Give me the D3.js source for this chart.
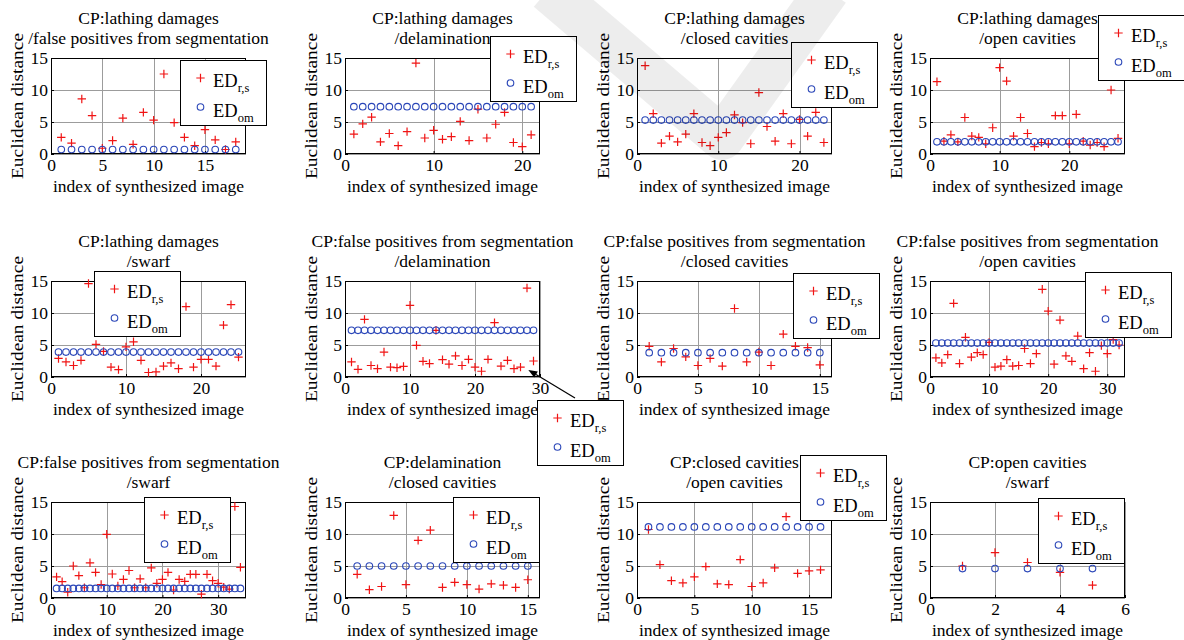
<!DOCTYPE html>
<html><head><meta charset="utf-8">
<script src="https://cdn.jsdelivr.net/npm/d3@7"></script>
<style>
body{margin:0;background:#fff}
svg{display:block}
svg text{font-family:"Liberation Serif","Times New Roman",Times,"DejaVu Serif",serif !important;fill:#000}
</style>
</head><body>
<svg id="c" width="1184" height="640" font-family="Liberation Serif, Times New Roman, serif"></svg>
<script>
// ---------- DATA ----------
const titleLine1 = [
  "CP:lathing damages","CP:lathing damages","CP:lathing damages","CP:lathing damages",
  "CP:lathing damages","CP:false positives from segmentation","CP:false positives from segmentation","CP:false positives from segmentation",
  "CP:false positives from segmentation","CP:delamination","CP:closed cavities","CP:open cavities"];
const titleLine2 = [
  "/false positives from segmentation","/delamination","/closed cavities","/open cavities",
  "/swarf","/delamination","/closed cavities","/open cavities",
  "/swarf","/closed cavities","/open cavities","/swarf"];

const xTickValues = [
  [0,5,10,15],[0,10,20],[0,10,20],[0,10,20],
  [0,10,20],[0,10,20,30],[0,5,10,15],[0,10,20,30],
  [0,10,20,30],[0,5,10,15],[0,5,10,15],[0,2,4,6]];
const yTickValues = [0,5,10,15];

const edRS1 = [2.6,1.7,8.6,6.0,0.9,2.1,5.6,1.5,6.5,5.3,12.5,4.9,2.6,1.3,3.8,2.2,0.7,1.9];
const edOM1 = [0.7,0.7,0.7,0.7,0.7,0.7,0.7,0.7,0.7,0.7,0.7,0.7,0.7,0.7,0.7,0.7,0.7,0.7];
const edRS2 = [3.1,4.7,5.75,1.9,3.2,1.3,3.5,14.2,2.5,3.7,2.3,2.7,5.1,2.1,7.0,2.5,4.65,6.5,1.8,1.15,3.0];
const edOM2 = [7.4,7.4,7.4,7.4,7.4,7.4,7.4,7.4,7.4,7.4,7.4,7.4,7.4,7.4,7.4,7.4,7.4,7.4,7.4,7.4,7.4];
const edRS3 = [13.8,6.3,1.7,2.8,1.9,3.1,6.3,1.8,1.3,2.6,3.35,6.1,4.9,1.6,9.6,4.3,2.0,6.3,1.6,5.4,2.8,6.5,1.8];
const edOM3 = [5.3,5.3,5.3,5.3,5.3,5.3,5.3,5.3,5.3,5.3,5.3,5.3,5.3,5.3,5.3,5.3,5.3,5.3,5.3,5.3,5.3,5.3,5.3];
const edRS4 = [11.3,2.0,3.0,1.9,5.7,2.8,2.6,1.6,4.1,13.5,11.4,2.8,5.7,3.2,1.15,1.8,1.6,6.0,6.0,1.6,6.2,2.0,1.4,1.8,1.15,10.0,2.45];
const edOM4 = [1.9,1.9,1.9,1.9,1.9,1.9,1.9,1.9,1.9,1.9,1.9,1.9,1.9,1.9,1.9,1.9,1.9,1.9,1.9,1.9,1.9,1.9,1.9,1.9,1.9,1.9,1.9];
const edRS5 = [2.9,2.35,1.8,2.6,14.6,5.1,4.0,1.55,1.15,4.7,5.5,2.6,0.7,0.8,1.7,2.2,1.3,11.0,1.55,2.75,2.75,1.7,8.1,11.3,3.1];
const edOM5 = [3.9,3.9,3.9,3.9,3.9,3.9,3.9,3.9,3.9,3.9,3.9,3.9,3.9,3.9,3.9,3.9,3.9,3.9,3.9,3.9,3.9,3.9,3.9,3.9,3.9];
const edRS6 = [2.35,1.2,9.0,1.8,1.3,3.9,1.55,1.45,1.65,11.2,4.95,2.45,2.1,7.3,2.7,2.0,3.3,1.8,2.75,1.55,0.9,2.75,8.5,1.7,2.6,1.3,1.55,13.9,2.5];
const edOM6 = [7.3,7.3,7.3,7.3,7.3,7.3,7.3,7.3,7.3,7.3,7.3,7.3,7.3,7.3,7.3,7.3,7.3,7.3,7.3,7.3,7.3,7.3,7.3,7.3,7.3,7.3,7.3,7.3,7.3];
const edRS7 = [4.8,2.35,4.45,3.15,1.8,2.9,1.7,10.7,2.35,3.9,1.8,6.7,4.8,4.6,1.9];
const edOM7 = [3.8,3.8,3.8,3.8,3.8,3.8,3.8,3.8,3.8,3.8,3.8,3.8,3.8,3.8,3.8];
const edRS8 = [3.0,2.2,3.5,11.5,2.1,6.2,3.1,3.8,3.5,5.4,1.55,1.7,2.7,1.7,1.8,4.45,2.1,3.65,13.7,10.3,2.0,8.9,3.3,2.45,6.4,1.3,3.8,0.9,4.9,3.65,5.85,5.0];
const edOM8 = [5.3,5.3,5.3,5.3,5.3,5.3,5.3,5.3,5.3,5.3,5.3,5.3,5.3,5.3,5.3,5.3,5.3,5.3,5.3,5.3,5.3,5.3,5.3,5.3,5.3,5.3,5.3,5.3,5.3,5.3,5.3,5.3];
const edRS9 = [3.3,2.55,0.9,5.0,3.5,1.6,5.5,4.0,2.1,9.95,3.75,1.9,2.9,4.3,1.6,3.0,1.6,4.7,2.3,2.9,4.0,1.25,2.9,2.6,3.7,3.7,0.6,3.7,2.7,2.3,1.7,1.4,14.3,4.8];
const edOM9 = [1.5,1.5,1.5,1.5,1.5,1.5,1.5,1.5,1.5,1.5,1.5,1.5,1.5,1.5,1.5,1.5,1.5,1.5,1.5,1.5,1.5,1.5,1.5,1.5,1.5,1.5,1.5,1.5,1.5,1.5,1.5,1.5,1.5,1.5];
const edRS10 = [3.7,1.3,1.8,12.9,2.1,9.0,10.6,1.65,2.45,2.1,1.4,2.2,2.0,1.65,2.85];
const edOM10 = [5.0,5.0,5.0,5.0,5.0,5.0,5.0,5.0,5.0,5.0,5.0,5.0,5.0,5.0,5.0];
const edRS11 = [10.7,5.2,2.7,2.35,3.3,4.9,2.2,2.1,6.0,1.8,2.35,4.7,12.7,3.85,4.25,4.4];
const edOM11 = [11.1,11.1,11.1,11.1,11.1,11.1,11.1,11.1,11.1,11.1,11.1,11.1,11.1,11.1,11.1,11.1];
const edRS12 = [5.0,7.1,5.55,4.0,2.0];
const edOM12 = [4.6,4.6,4.6,4.6,4.6];

const seriesRS = [edRS1,edRS2,edRS3,edRS4,edRS5,edRS6,edRS7,edRS8,edRS9,edRS10,edRS11,edRS12];
const seriesOM = [edOM1,edOM2,edOM3,edOM4,edOM5,edOM6,edOM7,edOM8,edOM9,edOM10,edOM11,edOM12];
const legendMain = "ED";
const legendSubs = ["r,s","om"];
const yLabel = "Euclidean distance";
const xLabel = "index of synthesized image";

// ---------- LAYOUT ----------
const colLeft = [51,345,637,930];
const rowTop = [58,281,502];
const W = 195, H = 96;
const legendOffset = [[129,2],[145,-22],[154,-16],[168,-43],[43,-10],[192,119],[156,-8],[155,-9],[93,-5],[108,-5],[163,-47],[108,-4]];
const LW = 86, LH = 65;
const RED = "#f01414", BLUE = "#2a46b8", GRID = "#9c9c9c";
const FS = 17.5;
const FONT = '"Liberation Serif","Times New Roman",Times,serif';

const svg = d3.select("#c");
svg.append("rect").attr("width",1184).attr("height",640).attr("fill","#fff");

const gAxes = svg.append("g");
const gLeg = svg.append("g");
const scales = [];

function txt(sel){ return sel.append("text").attr("font-family",FONT).style("font-family",FONT); }

function plus(sel, cx, cy, s){
  sel.append("path").attr("d",`M${cx-s},${cy}H${cx+s}M${cx},${cy-s}V${cy+s}`)
    .attr("stroke",RED).attr("stroke-width",1.2).attr("fill","none");
}

seriesRS.forEach((rs,i)=>{
  const om = seriesOM[i];
  const r = Math.floor(i/4), c = i%4;
  const L = colLeft[c], T = rowTop[r];
  const x = d3.scaleLinear().domain([0, rs.length+1]).range([L, L+W]);
  const y = d3.scaleLinear().domain([0,15]).range([T+H, T]);
  scales.push({x,y});
  const g = gAxes.append("g");

  // grid
  g.selectAll(".gx").data(xTickValues[i]).join("line")
    .attr("x1",d=>Math.round(x(d))+0.5).attr("x2",d=>Math.round(x(d))+0.5)
    .attr("y1",T).attr("y2",T+H).attr("stroke",GRID).attr("stroke-width",1);
  g.selectAll(".gy").data(yTickValues).join("line")
    .attr("y1",d=>Math.round(y(d))+0.5).attr("y2",d=>Math.round(y(d))+0.5)
    .attr("x1",L).attr("x2",L+W).attr("stroke",GRID).attr("stroke-width",1);

  // axes
  const ax = g.append("g").attr("transform",`translate(0,${T+H})`)
    .call(d3.axisBottom(x).tickValues(xTickValues[i]).tickFormat(d3.format("d")).tickSizeInner(-3).tickSizeOuter(0).tickPadding(5));
  const ay = g.append("g").attr("transform",`translate(${L},0)`)
    .call(d3.axisLeft(y).tickValues(yTickValues).tickFormat(d3.format("d")).tickSizeInner(-3).tickSizeOuter(0).tickPadding(3));
  [ax,ay].forEach(a=>{
    a.attr("font-family",FONT).attr("font-size",FS);
    a.select(".domain").remove();
    a.selectAll("text").attr("font-family",FONT).style("font-family",FONT).style("font-size",FS+"px").attr("fill","#000");
    a.selectAll("line").attr("stroke","#000");
  });

  // box
  g.append("rect").attr("x",L+0.5).attr("y",T+0.5).attr("width",W-1).attr("height",H-1)
    .attr("fill","none").attr("stroke","#000").attr("stroke-width",1);

  // points
  const gp = g.append("g");
  rs.forEach((v,k)=> plus(gp, x(k+1), y(v), 4.2));
  g.selectAll(".om").data(om).join("circle")
    .attr("cx",(d,k)=>x(k+1)).attr("cy",d=>y(d)).attr("r",3.3)
    .attr("fill","none").attr("stroke",BLUE).attr("stroke-width",1.1);

  // titles
  const cx = L + W/2;
  txt(g).attr("x",cx).attr("y",T-34).attr("text-anchor","middle").style("font-size",FS+"px").text(titleLine1[i]);
  txt(g).attr("x",cx).attr("y",T-14).attr("text-anchor","middle").style("font-size",FS+"px").text(titleLine2[i]);
  // labels
  txt(g).attr("x",cx).attr("y",T+H+38).attr("text-anchor","middle").style("font-size",FS+"px").text(xLabel);
  txt(g).attr("transform",`translate(${L-28},${T+H/2}) rotate(-90)`).attr("text-anchor","middle")
    .attr("textLength",146).attr("lengthAdjust","spacingAndGlyphs").style("font-size",FS+"px").text(yLabel);
});

// legends
seriesRS.forEach((rs,i)=>{
  const r = Math.floor(i/4), c = i%4;
  const lx = colLeft[c] + legendOffset[i][0], ly = rowTop[r] + legendOffset[i][1];
  const g = gLeg.append("g").attr("transform",`translate(${lx},${ly})`);
  g.append("rect").attr("x",0.5).attr("y",0.5).attr("width",LW).attr("height",LH)
    .attr("fill","#fff").attr("stroke","#000").attr("stroke-width",1);
  plus(g, 20.5, 18, 4.2);
  g.append("circle").attr("cx",20.5).attr("cy",47).attr("r",3.3).attr("fill","none").attr("stroke",BLUE).attr("stroke-width",1.1);
  [27,57].forEach((by,k)=>{
    const t = txt(g).attr("x",33).attr("y",by).style("font-size","18.5px");
    t.append("tspan").text(legendMain);
    t.append("tspan").attr("dy",4.5).style("font-size","12.5px").text(legendSubs[k]);
  });
  if(i===5){
    const s = scales[5];
    const x1 = lx+38, y1 = ly-2, x2 = s.x(28.2), y2 = s.y(1.1);
    const ang = Math.atan2(y2-y1, x2-x1), hl = 9, hw = 3.5;
    const bx = x2 - hl*Math.cos(ang), by = y2 - hl*Math.sin(ang);
    gLeg.append("line").attr("x1",x1).attr("y1",y1).attr("x2",bx).attr("y2",by).attr("stroke","#000").attr("stroke-width",1.2);
    gLeg.append("path").attr("d",`M${x2},${y2}L${bx - hw*Math.sin(ang)},${by + hw*Math.cos(ang)}L${bx + hw*Math.sin(ang)},${by - hw*Math.cos(ang)}Z`).attr("fill","#000");
  }
});

// faint publisher watermark (light gray check shape) overlaid on the page
svg.append("path")
  .attr("d","M548,-10L722,138L828,-10")
  .attr("fill","none").attr("stroke","#000").attr("stroke-opacity",0.07)
  .attr("stroke-width",44).attr("stroke-linejoin","round").attr("stroke-linecap","butt");
</script>
</body></html>
